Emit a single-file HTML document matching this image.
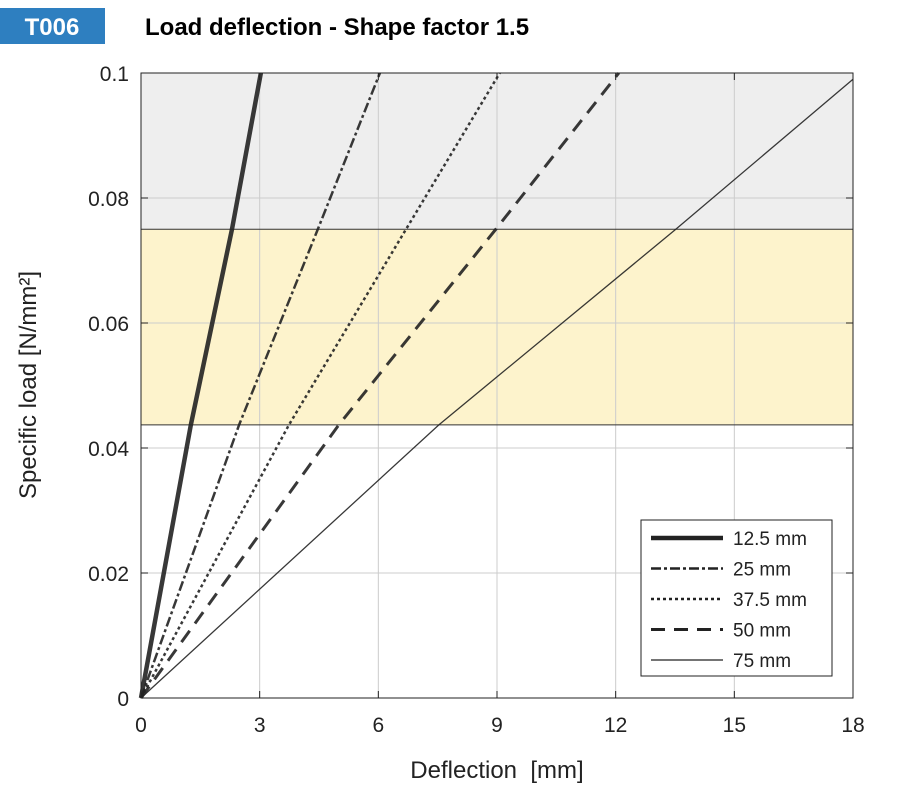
<!DOCTYPE html>
<html><head><meta charset="utf-8"><style>
body{margin:0;background:#fff;width:920px;height:800px;overflow:hidden;font-family:"Liberation Sans",sans-serif}
</style></head><body>
<svg id="chart" width="920" height="800" xmlns="http://www.w3.org/2000/svg">
<rect x="0" y="8" width="105" height="36" fill="#2e7fc0"/>
<text x="52" y="35" fill="#fff" font-size="24" font-weight="bold" text-anchor="middle">T006</text>
<text x="145" y="35" font-size="24" font-weight="bold" fill="#000">Load deflection - Shape factor 1.5</text>
<g id="plot"></g>
</svg>
<script>
const xTicks=[0,3,6,9,12,15,18];
const yTicks=[0,0.02,0.04,0.06,0.08,0.1];
const yTickLabels=["0","0.02","0.04","0.06","0.08","0.1"];
const seriesNames=["12.5 mm","25 mm","37.5 mm","50 mm","75 mm"];
const loads=[0,0.0437,0.075,0.1];
const defl125=[0,1.26,2.30,3.03];
const defl25=[0,2.48,4.47,6.04];
const defl375=[0,3.74,6.70,9.07];
const defl50=[0,5.0,8.97,12.08];
const loads75=[0,0.0437,0.075,0.099];
const defl75=[0,7.53,13.52,18];
const bandGray=[0.075,0.1];
const bandYellow=[0.0437,0.075];
const X0=141,X1=853,Y0=698,Y1=73;
const sx=v=>X0+(v-0)/18*(X1-X0);
const sy=v=>Y0-(v/0.1)*(Y0-Y1);
const NS="http://www.w3.org/2000/svg";
const g=document.getElementById('plot');
function mk(t,a){const e=document.createElementNS(NS,t);for(const k in a)e.setAttribute(k,a[k]);g.appendChild(e);return e;}
let e;
e=mk('rect',{x:X0,y:sy(bandGray[1]),width:X1-X0,height:sy(bandGray[0])-sy(bandGray[1]),fill:'#eeeeee'});


e=mk('rect',{x:X0,y:sy(bandYellow[1]),width:X1-X0,height:sy(bandYellow[0])-sy(bandYellow[1]),fill:'#fdf3cc'});


xTicks.forEach(t=>{
 e=mk('line',{x1:sx(t),x2:sx(t),y1:Y1,y2:Y0,stroke:'#ccc','stroke-width':1});
 
 
 mk('line',{x1:sx(t),x2:sx(t),y1:Y0,y2:Y0-7,stroke:'#222'});
 mk('line',{x1:sx(t),x2:sx(t),y1:Y1,y2:Y1+7,stroke:'#222'});
 e=mk('text',{x:sx(t),y:Y0+34,'font-size':21,'text-anchor':'middle',fill:'#222'});e.textContent=t;
 
 
});
yTicks.forEach((t,i)=>{
 e=mk('line',{x1:X0,x2:X1,y1:sy(t),y2:sy(t),stroke:'#ccc','stroke-width':1});
 
 
 mk('line',{x1:X0,x2:X0+7,y1:sy(t),y2:sy(t),stroke:'#222'});
 mk('line',{x1:X1,x2:X1-7,y1:sy(t),y2:sy(t),stroke:'#222'});
 e=mk('text',{x:X0-12,y:sy(t)+8,'font-size':21,'text-anchor':'end',fill:'#222'});e.textContent=yTickLabels[i];
 
 
});
[bandGray[0],bandYellow[0]].forEach(v=>{mk('line',{x1:X0,x2:X1,y1:sy(v),y2:sy(v),stroke:'#333','stroke-width':1});});
const styles=[
 {w:4.5,d:''},{w:2.5,d:'10 3 3 3'},{w:2.5,d:'3 3'},{w:3,d:'14 9'},{w:1.3,d:''}];
const data=[[defl125,loads],[defl25,loads],[defl375,loads],[defl50,loads],[defl75,loads75]];
const names=['line-12-5mm','line-25mm','line-37-5mm','line-50mm','line-75mm'];
data.forEach((s,i)=>{
 const pts=s[0].map((x,j)=>sx(x)+','+sy(s[1][j])).join(' ');
 e=mk('polyline',{points:pts,fill:'none',stroke:'#222','stroke-width':styles[i].w,'stroke-dasharray':styles[i].d,opacity:0.9});
 
 
});
e=mk('rect',{x:X0,y:Y1,width:X1-X0,height:Y0-Y1,fill:'none',stroke:'#222','stroke-width':1});


e=mk('rect',{x:641,y:520,width:191,height:156,fill:'#fff',stroke:'#222'});


seriesNames.forEach((n,i)=>{
 const y=538+i*30.5;
 e=mk('line',{x1:651,x2:723,y1:y,y2:y,stroke:'#222','stroke-width':styles[i].w,'stroke-dasharray':styles[i].d});
 
 
 e=mk('text',{x:733,y:y+7,'font-size':19,fill:'#222'});e.textContent=n;
 
 
});
e=mk('text',{x:497,y:778,'font-size':24,'text-anchor':'middle',fill:'#222',style:'white-space:pre'});e.textContent='Deflection  [mm]';


e=mk('text',{x:0,y:0,'font-size':24,'text-anchor':'middle',fill:'#222',transform:'translate(36,385) rotate(-90)'});e.textContent='Specific load [N/mm²]';


</script>
</body></html>
